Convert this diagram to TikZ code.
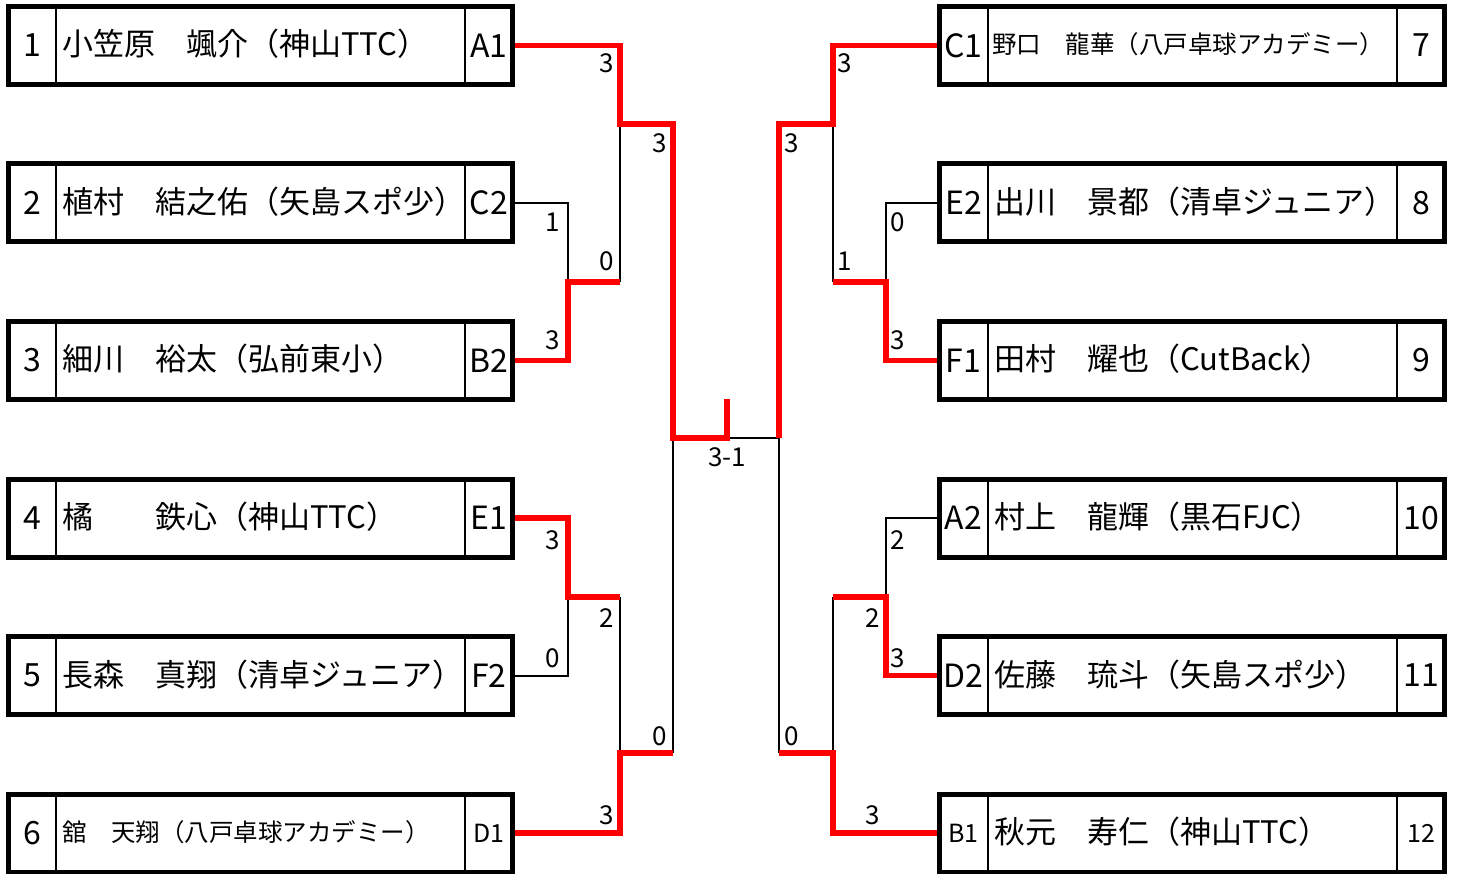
\documentclass[tikz,border=0pt]{standalone}
\usepackage{fontspec}
\setmainfont{Noto Sans CJK JP}
\begin{document}
\begin{tikzpicture}[x=1pt,y=-1pt,
  box/.style={draw, line width=5pt, minimum width=504.5pt, minimum height=78pt, inner sep=0pt},
  div/.style={line width=2.5pt},
  lose/.style={line width=2pt, black},
  win/.style={line width=5.5pt, red, line join=miter},
  big/.style={font=\fontsize{32}{32}\selectfont, inner sep=0pt},
  pname/.style={font=\fontsize{31}{31}\selectfont, inner sep=0pt, anchor=base west},
  small/.style={font=\fontsize{25}{25}\selectfont, inner sep=0pt},
  sname/.style={font=\fontsize{24.5}{24.5}\selectfont, inner sep=0pt, anchor=base west},
  score/.style={font=\fontsize{26}{26}\selectfont, inner sep=0pt},
]
\useasboundingbox (0,0) rectangle (1459,874);

% boxes
\node[box] (p1) at (260.25,45.5) {};
\node[box] (p2) at (260.25,203) {};
\node[box] (p3) at (260.25,360.5) {};
\node[box] (p4) at (260.25,518) {};
\node[box] (p5) at (260.25,675.5) {};
\node[box] (p6) at (260.25,833) {};
\node[box] (p7) at (1191.75,45.5) {};
\node[box] (p8) at (1191.75,203) {};
\node[box] (p9) at (1191.75,360.5) {};
\node[box] (p10) at (1191.75,518) {};
\node[box] (p11) at (1191.75,675.5) {};
\node[box] (p12) at (1191.75,833) {};

\foreach \y in {45.5,203,360.5,518,675.5,833}{
  \draw[div] (56,\y-39) -- (56,\y+39);
  \draw[div] (465,\y-39) -- (465,\y+39);
  \draw[div] (988,\y-39) -- (988,\y+39);
  \draw[div] (1397,\y-39) -- (1397,\y+39);
}

% left texts
\node[big] (n1) at (32,45.5) {1};
\node[pname] (t1) at (62,56) {小笠原　颯介（神山TTC）};
\node[big] (c1) at (489,45.5) {A1};
\node[big] (n2) at (32,203) {2};
\node[pname] (t2) at (62,213.5) {植村　結之佑（矢島スポ少）};
\node[big] (c2) at (489,203) {C2};
\node[big] (n3) at (32,360.5) {3};
\node[pname] (t3) at (62,371) {細川　裕太（弘前東小）};
\node[big] (c3) at (489,360.5) {B2};
\node[big] (n4) at (32,518) {4};
\node[pname] (t4) at (62,528.5) {橘　　鉄心（神山TTC）};
\node[big] (c4) at (489,518) {E1};
\node[big] (n5) at (32,675.5) {5};
\node[pname] (t5) at (62,686) {長森　真翔（清卓ジュニア）};
\node[big] (c5) at (489,675.5) {F2};
\node[big] (n6) at (32,833) {6};
\node[sname] (t6) at (62,841.5) {舘　天翔（八戸卓球アカデミー）};
\node[small] (c6) at (489,833) {D1};

% right texts
\node[big] (c7) at (963.5,45.5) {C1};
\node[sname] (t7) at (992,54) {野口　龍華（八戸卓球アカデミー）};
\node[big] (n7) at (1421,45.5) {7};
\node[big] (c8) at (963.5,203) {E2};
\node[pname] (t8) at (994,213.5) {出川　景都（清卓ジュニア）};
\node[big] (n8) at (1421,203) {8};
\node[big] (c9) at (963.5,360.5) {F1};
\node[pname] (t9) at (994,371) {田村　耀也（CutBack）};
\node[big] (n9) at (1421,360.5) {9};
\node[big] (c10) at (963.5,518) {A2};
\node[pname] (t10) at (994,528.5) {村上　龍輝（黒石FJC）};
\node[big] (n10) at (1421,518) {10};
\node[big] (c11) at (963.5,675.5) {D2};
\node[pname] (t11) at (994,686) {佐藤　琉斗（矢島スポ少）};
\node[big] (n11) at (1421,675.5) {11};
\node[small] (c12) at (963.5,833) {B1};
\node[pname] (t12) at (994,843.5) {秋元　寿仁（神山TTC）};
\node[small] (n12) at (1421,833) {12};

% junctions
\coordinate (qL1) at (620,124);
\coordinate (qL1b) at (620,282);
\coordinate (rL1) at (568,282);
\coordinate (sL) at (673,438);
\coordinate (fin) at (727,438);
\coordinate (finTop) at (727,399);
\coordinate (sR) at (779,438);
\coordinate (rL2) at (568,597);
\coordinate (qL2) at (620,597);
\coordinate (qL2b) at (620,753);
\coordinate (sLb) at (673,753);
\coordinate (qR1) at (833,124);
\coordinate (sRt) at (779,124);
\coordinate (rR1) at (886,282);
\coordinate (qR1b) at (833,282);
\coordinate (rR2) at (886,597);
\coordinate (qR2) at (833,597);
\coordinate (qR2b) at (833,753);
\coordinate (sRb) at (779,753);

% losing lines
\draw[lose] (p2.east) -| (rL1);
\draw[lose] (qL1b) -- (qL1);
\draw[lose] (p5.east) -| (rL2);
\draw[lose] (qL2) -- (qL2b);
\draw[lose] (sLb) -- (sL);
\draw[lose] (fin) -- (sR);
\draw[lose] (p8.west) -| (rR1);
\draw[lose] (qR1b) -- (qR1);
\draw[lose] (p10.west) -| (rR2);
\draw[lose] (qR2) -- (qR2b);
\draw[lose] (sRb) -- (sR);

% winning lines
\draw[win] (p1.east) -| (qL1) -| (sL) -- (fin) -- (finTop);
\draw[win] (p3.east) -| (rL1) -- (qL1b);
\draw[win] (p4.east) -| (rL2) -- (qL2);
\draw[win] (p6.east) -| (qL2b) -- (sLb);
\draw[win] (p7.west) -| (qR1) -- (sRt) -- (sR);
\draw[win] (p9.west) -| (rR1) -- (qR1b);
\draw[win] (p11.west) -| (rR2) -- (qR2);
\draw[win] (p12.west) -| (qR2b) -- (sRb);

% scores
\node[score] (s1) at (607,63) {3};
\node[score] (s2) at (660,143) {3};
\node[score] (s3) at (553,222) {1};
\node[score] (s4) at (607,261) {0};
\node[score] (s5) at (553,340) {3};
\node[score] (s6) at (727,457) {3-1};
\node[score] (s7) at (553,540) {3};
\node[score] (s8) at (607,618) {2};
\node[score] (s9) at (553,658) {0};
\node[score] (s10) at (660,736) {0};
\node[score] (s11) at (607,815) {3};
\node[score] (s12) at (845,63) {3};
\node[score] (s13) at (792,143) {3};
\node[score] (s14) at (898,222) {0};
\node[score] (s15) at (845,261) {1};
\node[score] (s16) at (898,340) {3};
\node[score] (s17) at (898,540) {2};
\node[score] (s18) at (873,618) {2};
\node[score] (s19) at (898,658) {3};
\node[score] (s20) at (792,736) {0};
\node[score] (s21) at (873,815) {3};
\end{tikzpicture}
\end{document}
